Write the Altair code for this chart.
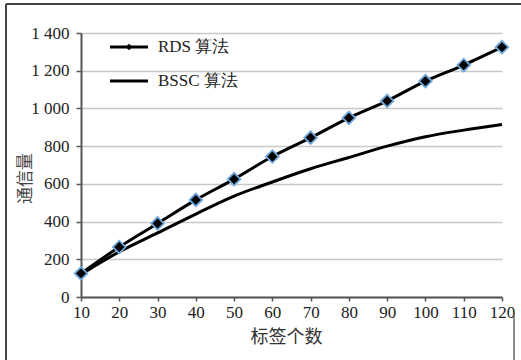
import altair as alt
import pandas as pd

# Number of tags and communication volume for the two algorithms
tags = [10, 20, 30, 40, 50, 60, 70, 80, 90, 100, 110, 120]
rds = [125, 265, 390, 515, 625, 745, 845, 950, 1040, 1145, 1230, 1325]
bssc = [120, 240, 340, 440, 535, 610, 680, 740, 800, 850, 885, 915]
y_ticks = [0, 200, 400, 600, 800, 1000, 1200, 1400]

series_names = ["RDS 算法", "BSSC 算法"]

df = pd.DataFrame(
    {"tags": tags * 2,
     "volume": rds + bssc,
     "series": [series_names[0]] * len(tags) + [series_names[1]] * len(tags)}
)
rds_df = df[df["series"] == series_names[0]]

W, H = 421, 264
LEFT, TOP = 81, 33
SERIF = "'Liberation Serif', 'Times New Roman', serif"
CJK = "'Noto Sans CJK SC', sans-serif"

x = alt.X(
    "tags:Q",
    scale=alt.Scale(domain=[10, 120], nice=False, zero=False),
    axis=alt.Axis(
        values=tags, tickCount=40, title="标签个数", grid=False,
        labelOverlap=False, labelFlush=False,
        domainColor="#555", domainWidth=2, tickColor="#555", tickSize=4, tickWidth=1.5,
        labelFont=SERIF, labelFontSize=17, labelColor="#222", labelPadding=3,
        titleFont=CJK, titleFontSize=18, titleFontWeight="normal",
        titleColor="#333", titlePadding=8, titleX=205,
    ),
)
y = alt.Y(
    "volume:Q",
    scale=alt.Scale(domain=[0, 1400], nice=False),
    axis=alt.Axis(
        values=y_ticks, tickCount=40, title="通信量",
        labelOverlap=False, labelFlush=False,
        gridColor="#c8c8c8", gridWidth=1.5,
        domainColor="#555", domainWidth=2, tickColor="#555", tickSize=5, tickWidth=1.5,
        labelFont=SERIF, labelFontSize=17, labelColor="#222", labelPadding=7,
        labelExpr="replace(format(datum.value, ','), ',', ' ')",
        titleFont=CJK, titleFontSize=17, titleFontWeight="normal",
        titleColor="#444", titleX=-56, titleY=145, titleBaseline="middle",
    ),
)

lines = alt.Chart(df).mark_line(
    color="black", strokeWidth=3, interpolate="monotone"
).encode(x=x, y=y, detail="series:N")

markers = alt.Chart(rds_df).mark_point(
    shape="diamond", filled=False, fill="black", fillOpacity=1,
    stroke="#6fa8dc", strokeWidth=1.8, size=160, opacity=1
).encode(x="tags:Q", y="volume:Q")

# Legend drawn inside the plot's upper-left corner
legend_df = pd.DataFrame({"label": series_names, "row": [0, 1]})
leg_base = alt.Chart(legend_df).transform_calculate(ly="14 + datum.row * 34")
leg_lines = leg_base.mark_rule(color="black", strokeWidth=3).encode(
    x=alt.value(29), x2=alt.value(67), y=alt.Y("ly:Q", scale=None)
)
leg_marker = leg_base.transform_filter("datum.row == 0").mark_point(
    shape="diamond", filled=True, color="black", size=45, opacity=1
).encode(x=alt.value(48), y=alt.Y("ly:Q", scale=None))
leg_text = leg_base.mark_text(
    align="left", baseline="middle", font=SERIF, fontSize=17, color="#222"
).encode(x=alt.value(77), y=alt.Y("ly:Q", scale=None), text="label:N")

# Outer frame lines
frame_top = alt.Chart(legend_df.head(1)).mark_rule(color="#444", strokeWidth=2).encode(
    x=alt.value(-75), x2=alt.value(440), y=alt.value(-29)
)
frame_left = alt.Chart(legend_df.head(1)).mark_rule(color="#444", strokeWidth=2).encode(
    x=alt.value(-75), y=alt.value(-29), y2=alt.value(327)
)
frame_right = alt.Chart(legend_df.head(1)).mark_rule(color="#666", strokeWidth=1.5).encode(
    x=alt.value(433), y=alt.value(280), y2=alt.value(327)
)

chart = alt.layer(
    lines, markers, leg_lines, leg_marker, leg_text, frame_top, frame_left, frame_right
).properties(
    width=W, height=H,
    autosize=alt.AutoSizeParams(type="none"),
    padding={"left": LEFT, "top": TOP, "right": 521 - LEFT - W, "bottom": 360 - TOP - H},
    background="white",
).configure_view(stroke=None)

chart.save("out.html", embed_options={"renderer": "svg", "actions": False})
